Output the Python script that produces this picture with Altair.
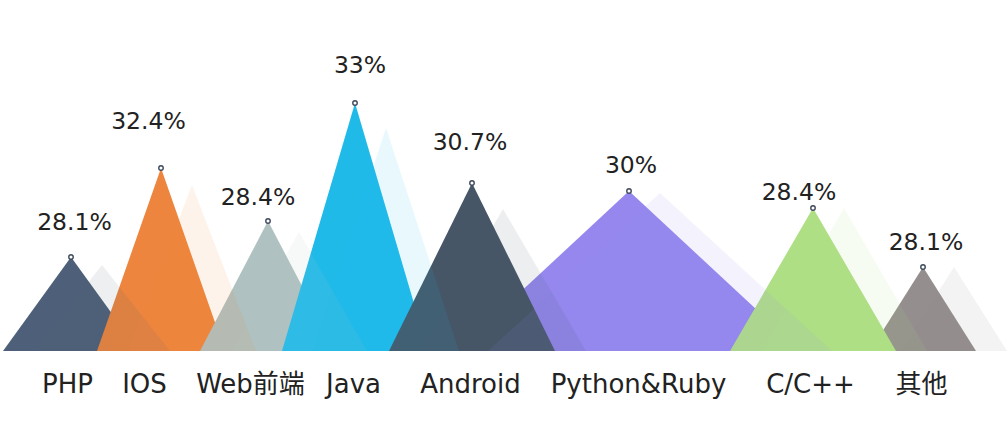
import altair as alt
import pandas as pd

# ---- data ----
categories = ["PHP", "IOS", "Web前端", "Java", "Android", "Python&Ruby", "C/C++", "其他"]
values = [28.1, 32.4, 28.4, 33, 30.7, 30, 28.4, 28.1]
# mountain geometry in chart units (x along the ridge line, y height above the base)
peak_x = [71, 161, 268, 355, 472, 629, 813, 923]
half_base = [68, 64, 68, 73, 83, 172, 83, 53]
peak_h = [94, 183, 130, 248, 168, 160, 143, 84]
shadow_h = [86, 166, 119, 223, 142, 158, 143, 84]
colors = ["#4e6079", "#ee853e", "#afc1c0", "#20bae9", "#475667", "#9587ee", "#afdf85", "#958e8e"]
draw_rank = [0, 1, 2, 3, 5, 4, 7, 6]

# ---- label placement (chart units) ----
cat_label_x = [67, 144, 250, 353, 470, 638, 810, 921]
val_label_x = [74.5, 148.5, 258, 360, 470, 631, 799, 926]
val_label_y = [128, 229, 153, 285, 208, 185, 158, 108]
shadow_shift = 31

FONT = "DejaVu Sans, Noto Sans CJK SC"

keys = [f"{draw_rank[i]}-{c}" for i, c in enumerate(categories)]
order = sorted(range(len(categories)), key=lambda i: draw_rank[i])
keys_sorted = [keys[i] for i in order]
colors_sorted = [colors[i] for i in order]

main_rows, shadow_rows = [], []
for i in order:
    cx, hw = peak_x[i], half_base[i]
    for x, y in [(cx - hw, 0), (cx, peak_h[i]), (cx + hw, 0)]:
        main_rows.append({"key": keys[i], "x": x, "y": y})
    sx = cx + shadow_shift
    for x, y in [(sx - hw, 0), (sx, shadow_h[i]), (sx + hw, 0)]:
        shadow_rows.append({"key": keys[i], "x": x, "y": y})
main_df = pd.DataFrame(main_rows)
shadow_df = pd.DataFrame(shadow_rows)

peaks_df = pd.DataFrame({"key": keys, "x": peak_x, "y": peak_h})
labels_df = pd.DataFrame({
    "key": keys,
    "x": val_label_x,
    "y": val_label_y,
    "txt": [f"{v:g}%" for v in values],
})

label_expr = (
    "[" + ",".join(f"'{c}'" for c in categories) + "]"
    + "[indexof([" + ",".join(str(v) for v in cat_label_x) + "], datum.value)]"
)

x_axis = alt.Axis(
    values=cat_label_x, labelExpr=label_expr, title=None, domain=False, ticks=False,
    grid=False, labelPadding=33, labelBaseline="middle", labelFontSize=26,
    labelFont=FONT, labelColor="#222222", labelAngle=0, labelFlush=False,
    labelOverlap=False, labelBound=False,
)
x_enc = alt.X("x:Q", scale=alt.Scale(domain=[0, 1007], nice=False, zero=False), axis=x_axis)
y_enc = alt.Y("y:Q", scale=alt.Scale(domain=[0, 351], nice=False, zero=True), axis=None, stack=None)
color_enc = alt.Color("key:N", scale=alt.Scale(domain=keys_sorted, range=colors_sorted), legend=None)

mains = alt.Chart(main_df).mark_area(opacity=1, interpolate="linear").encode(
    x=x_enc, y=y_enc, color=color_enc
)
shadows = alt.Chart(shadow_df).mark_area(opacity=0.1, interpolate="linear").encode(
    x=x_enc, y=y_enc, color=color_enc
)
markers = alt.Chart(peaks_df).mark_point(
    shape="circle", filled=True, fill="white", stroke="#3e4a5c", strokeWidth=1.4,
    size=20, opacity=1
).encode(x=x_enc, y=y_enc)
texts = alt.Chart(labels_df).mark_text(
    font=FONT, fontSize=23.5, baseline="middle", align="center", color="#222222"
).encode(x=x_enc, y=y_enc, text="txt:N")

chart = alt.layer(mains, shadows, markers, texts).properties(
    width=1007, height=351,
    padding={"left": 0, "top": 0, "right": 0, "bottom": 73},
    autosize=alt.AutoSizeParams(type="none"),
    background="white",
).configure_view(stroke=None)

chart.save("out.html", embed_options={"renderer": "svg", "actions": False})
